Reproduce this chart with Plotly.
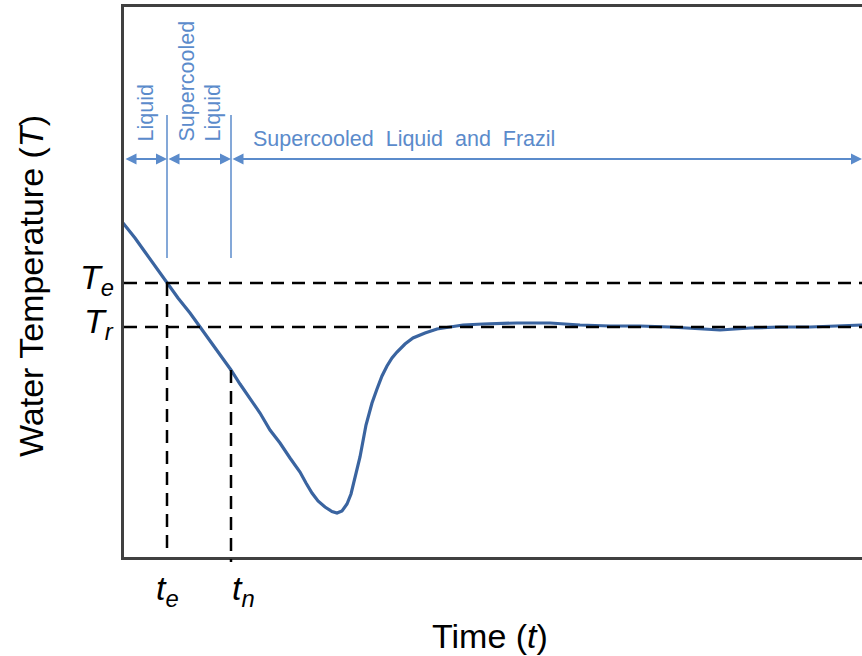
import plotly.graph_objects as go

# ---- data (arbitrary units read from the schematic) ----
time = [0.0, 1.2, 2.2, 3.2, 4.4, 5.5, 6.7, 7.7, 8.7, 9.7, 10.8, 11.7, 12.7, 13.7,
        14.7, 15.7, 16.7, 17.7, 18.3, 18.9, 19.5, 20.2, 20.9, 21.4, 21.9, 22.4,
        22.8, 23.2, 23.7, 24.3, 24.9, 25.4, 25.9, 26.4, 26.9, 27.4, 28.2, 29.0,
        30.2, 31.4, 32.7, 34.0, 36.0, 39.4, 42.7, 45.7, 48.7, 51.7, 54.7, 57.7,
        59.7, 62.7, 65.7, 68.7, 71.7, 73.9]
temp = [33.3, 31.8, 30.4, 29.0, 27.3, 25.8, 24.3, 22.9, 21.5, 20.1, 18.6, 17.2,
        15.8, 14.3, 12.6, 11.3, 9.8, 8.4, 7.3, 6.3, 5.5, 4.9, 4.45, 4.3, 4.5, 5.2,
        6.2, 7.8, 9.9, 13.1, 15.3, 16.7, 18.0, 19.0, 19.8, 20.4, 21.2, 21.8,
        22.3, 22.7, 22.9, 23.1, 23.2, 23.3, 23.3, 23.1, 23.0, 23.0, 22.9, 22.7,
        22.6, 22.8, 22.9, 22.9, 23.0, 23.1]

t_e, t_n = 4.4, 10.8          # onset of supercooling, nucleation time
T_e, T_r = 27.3, 22.9         # equilibrium and residual temperatures
T_at_tn = 18.6                # water temperature at t_n
phase_bounds = [0.1, t_e, t_n, 73.9]
phase_text = ["Liquid", "Supercooled", "Liquid"]
phase_text_x = [2.2, 6.3, 8.9]
frazil_text = "Supercooled\u00a0\u00a0Liquid\u00a0\u00a0and\u00a0\u00a0Frazil"
arrow_level = 39.7
marker_top, marker_bottom = 44.1, 29.8

X_RANGE = [0.1, 73.9]
Y_RANGE = [-0.1, 54.9]

FONT = "Liberation Sans, Arial, sans-serif"
CURVE = "#3A64A0"
BLUE = "#5B8BCB"
AXIS = "#404040"

def yfrac(v):
    return (v - Y_RANGE[0]) / (Y_RANGE[1] - Y_RANGE[0])

fig = go.Figure()
fig.add_trace(go.Scatter(x=time, y=temp, mode="lines",
                         line=dict(color=CURVE, width=3.2), hoverinfo="skip"))

dash = "13px,8px"
for T in (T_e, T_r):
    fig.add_shape(type="line", xref="x", yref="y", x0=X_RANGE[0], x1=X_RANGE[1],
                  y0=T, y1=T, line=dict(color="black", width=2.5, dash=dash))
fig.add_shape(type="line", xref="x", yref="paper", x0=t_e, x1=t_e,
              y0=yfrac(T_e), y1=0.013, line=dict(color="black", width=2.5, dash=dash))
fig.add_shape(type="line", xref="x", yref="paper", x0=t_n, x1=t_n,
              y0=yfrac(T_at_tn), y1=-0.009, line=dict(color="black", width=2.5, dash=dash))
for t in (t_e, t_n):
    fig.add_shape(type="line", xref="x", yref="y", x0=t, x1=t,
                  y0=marker_bottom, y1=marker_top, line=dict(color=BLUE, width=1.5))

for a, b in zip(phase_bounds[:-1], phase_bounds[1:]):
    fig.add_annotation(x=b, y=arrow_level, ax=a, ay=arrow_level,
                       xref="x", yref="y", axref="x", ayref="y", text="",
                       showarrow=True, arrowhead=2, startarrowhead=2,
                       arrowside="end+start", arrowsize=1.1, startarrowsize=1.1,
                       arrowwidth=2, arrowcolor=BLUE, standoff=0, startstandoff=0)

lab_font = dict(family=FONT, size=21.5, color=BLUE)
for txt, xx in zip(phase_text, phase_text_x):
    fig.add_annotation(x=xx, y=arrow_level, text=txt, textangle=-90,
                       xanchor="center", yanchor="bottom", yshift=15,
                       showarrow=False, font=lab_font)
fig.add_annotation(x=t_n, y=arrow_level, text=frazil_text,
                   xanchor="left", yanchor="bottom", xshift=20, yshift=6,
                   showarrow=False, font=lab_font)

big = dict(family=FONT, size=34, color="black")
fig.add_annotation(x=X_RANGE[0], y=T_e, text="<i>T</i><sub><i>e</i></sub>",
                   xanchor="right", yanchor="middle", xshift=-8, yshift=4,
                   showarrow=False, font=big)
fig.add_annotation(x=X_RANGE[0], y=T_r, text="<i>T</i><sub><i>r</i></sub>",
                   xanchor="right", yanchor="middle", xshift=-8, yshift=4,
                   showarrow=False, font=big)
fig.add_annotation(x=t_e, xref="x", y=-0.06, yref="paper",
                   text="<i>t</i><sub><i>e</i></sub>", xanchor="center",
                   yanchor="middle", showarrow=False, font=big)
fig.add_annotation(x=t_n, xref="x", y=-0.06, yref="paper", xshift=12,
                   text="<i>t</i><sub><i>n</i></sub>", xanchor="center",
                   yanchor="middle", showarrow=False, font=big)

fig.add_annotation(x=-0.126, xref="paper", y=0.4927, yref="paper",
                   text="Water Temperature (<i>T</i>)", textangle=-90,
                   xanchor="center", yanchor="middle", showarrow=False, font=big)
fig.add_annotation(x=0.496, xref="paper", y=-0.143, yref="paper",
                   text="Time (<i>t</i>)", xanchor="center", yanchor="middle",
                   showarrow=False, font=big)

axis_common = dict(showline=True, linecolor=AXIS, linewidth=2.5, showgrid=False,
                   zeroline=False, showticklabels=False, ticks="", fixedrange=True)
fig.update_layout(
    width=862, height=656,
    margin=dict(l=124, r=0, t=7, b=99),
    paper_bgcolor="white", plot_bgcolor="white",
    showlegend=False,
    xaxis=dict(range=X_RANGE, mirror=True, **axis_common),
    yaxis=dict(range=Y_RANGE, **axis_common),
    font=dict(family=FONT),
)

fig.write_html("out.html")
